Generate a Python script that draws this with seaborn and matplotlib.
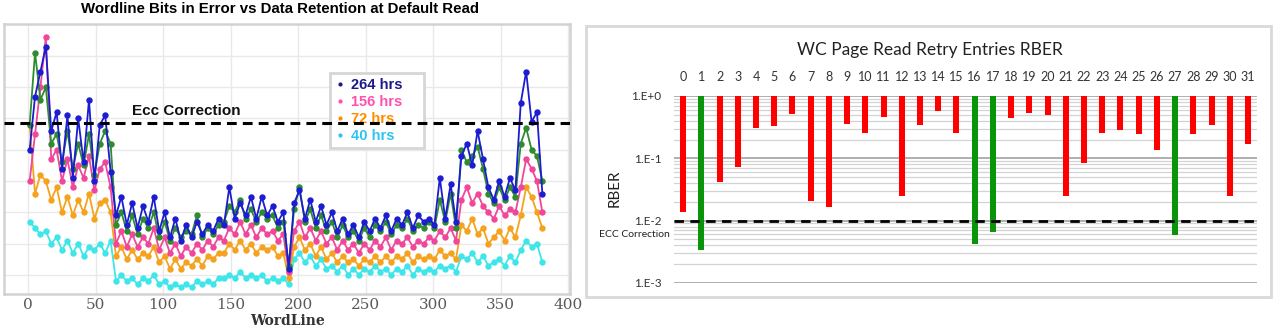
import matplotlib
matplotlib.use("Agg")
import matplotlib.pyplot as plt
import seaborn as sns
from matplotlib.lines import Line2D
from matplotlib.patches import Rectangle
from matplotlib.ticker import FixedLocator, FixedFormatter, NullFormatter

# ---------------- data: left chart (bits in error per wordline) ----------------
wordline = list(range(1, 382, 4))

bits_264 = [50, 67, 75, 83, 56, 62, 44, 61, 41, 60, 46, 66, 40, 58, 61, 43,
            29, 35, 26, 33, 25, 32, 27, 35, 24, 30, 22, 28, 21, 26, 22, 27,
            23, 26, 24, 28, 26, 38, 28, 33, 29, 35, 28, 35, 29, 32, 27, 30,
            12,
            33, 37, 28, 34, 27, 32, 26, 30, 24, 28, 23, 26, 22, 27, 24, 28,
            25, 29, 24, 28, 26, 30, 25, 29, 27, 28, 26, 41, 28, 39, 27,
            48, 52, 45, 56, 47, 38, 34, 40, 35, 41, 37, 65, 75, 59, 62, 36]

bits_other = [58, 81, 66, 70, 52, 55, 46, 56, 44, 52, 45, 55, 42, 52, 56, 52,
              26, 30, 24, 29, 23, 28, 25, 30, 22, 27, 21, 25, 22, 24, 23, 29,
              22, 25, 23, 26, 27, 32, 30, 34, 28, 31, 27, 30, 28, 29, 25, 27,
              13,
              31, 38, 27, 31, 25, 29, 24, 27, 22, 26, 22, 24, 21, 25, 22, 26,
              24, 27, 23, 26, 25, 28, 24, 26, 25, 27, 25, 34, 27, 36, 25,
              50, 46, 48, 51, 44, 36, 33, 38, 34, 38, 35, 52, 57, 50, 48, 40]

bits_156 = [40, 55, 70, 86, 47, 50, 40, 47, 38, 45, 41, 48, 37, 44, 46, 38,
            20, 24, 19, 23, 19, 22, 20, 25, 18, 22, 17, 20, 16, 19, 17, 20,
            18, 21, 19, 22, 21, 25, 23, 27, 23, 26, 22, 25, 23, 24, 21, 23,
            11,
            24, 27, 22, 25, 21, 24, 20, 22, 18, 21, 18, 20, 17, 20, 18, 21,
            19, 22, 18, 21, 20, 22, 19, 21, 20, 22, 21, 24, 22, 25, 21,
            34, 38, 33, 36, 32, 30, 28, 32, 29, 31, 30, 38, 47, 44, 40, 30]

bits_72 = [58, 36, 42, 40, 34, 38, 30, 35, 29, 34, 30, 36, 28, 33, 34, 30,
           16, 19, 15, 18, 15, 17, 16, 19, 14, 16, 12, 15, 12, 14, 13, 15,
           13, 16, 15, 17, 17, 20, 18, 21, 18, 20, 17, 19, 18, 19, 16, 17,
           9,
           19, 22, 18, 20, 16, 19, 15, 17, 14, 16, 14, 15, 13, 15, 14, 16,
           14, 16, 14, 16, 15, 17, 14, 16, 15, 16, 15, 18, 16, 17, 15,
           26, 24, 28, 23, 25, 20, 22, 24, 21, 25, 22, 29, 38, 35, 30, 25]

bits_40 = [27, 25, 23, 24, 20, 22, 18, 21, 17, 20, 16, 19, 18, 20, 17, 21,
           8, 10, 8, 9, 7, 9, 8, 10, 7, 8, 6, 7, 6, 7, 6, 8,
           7, 8, 7, 9, 9, 10, 9, 11, 9, 10, 9, 10, 8, 9, 8, 9,
           7,
           15, 17, 14, 16, 13, 15, 12, 13, 11, 13, 10, 12, 10, 12, 11, 13,
           11, 12, 10, 12, 11, 13, 10, 12, 11, 12, 11, 13, 12, 13, 11,
           16, 15, 17, 14, 16, 13, 14, 15, 13, 16, 14, 18, 21, 19, 20, 14]

legend_labels = ["264 hrs", "156 hrs", "72 hrs", "40 hrs"]
ecc_left = 58.7
left_xticks = [0, 50, 100, 150, 200, 250, 300, 350, 400]

# ---------------- data: right chart (RBER per read-retry entry) ----------------
retry_entries = list(range(32))
rber = [0.0138, 0.00336, 0.042, 0.0716, 0.305, 0.328, 0.513, 0.0208, 0.0166, 0.358,
        0.256, 0.453, 0.0253, 0.345, 0.566, 0.256, 0.00415, 0.00665, 0.448, 0.538,
        0.494, 0.0253, 0.084, 0.256, 0.286, 0.247, 0.135, 0.0058, 0.247, 0.345,
        0.0253, 0.168]
passing_entries = [1, 16, 17, 27]
ecc_rber = 1e-2
rber_ticks = [1e-3, 1e-2, 1e-1, 1.0]
rber_ticklabels = ["1.E-3", "1.E-2", "1.E-1", "1.E+0"]

# ---------------- styling ----------------
sns.set_theme(style="white")
plt.rcParams["font.family"] = ["DejaVu Sans"]

c_blue, c_other, c_pink, c_orange, c_cyan = "#1c1cd0", "#2e8b2e", "#f0479a", "#f5a31e", "#3ee6ea"
legend_text_cols = ["#1a1a8c", "#ff4fb0", "#ff8c00", "#2ec4f0"]
legend_dot_cols = ["#1a1a8c", "#ff4fb0", "#ff8c00", "#2ec4f0"]

fig = plt.figure(figsize=(12.8, 3.33), dpi=100)

# ================= LEFT CHART =================
axL = fig.add_axes([0.003125, 0.1171, 0.4422, 0.8108])
for vals, col, z in [(bits_40, c_cyan, 2), (bits_72, c_orange, 2.1), (bits_156, c_pink, 2.2),
                     (bits_other, c_other, 2.3), (bits_264, c_blue, 2.4)]:
    sns.lineplot(x=wordline, y=vals, ax=axL, color=col, marker="o", markersize=4.6,
                 markeredgewidth=0, linewidth=1.3, legend=False, zorder=z)

axL.set_xlim(-18, 401.5)
axL.set_ylim(3.9, 90.2)
axL.set_xticks(left_xticks)
axL.set_xticklabels([str(t) for t in left_xticks])
axL.set_yticks([10, 20, 30, 40, 50, 60, 70, 80])
axL.set_yticklabels([])
axL.grid(True, color="#e9e9e9", lw=1.0)
axL.set_axisbelow(True)
for sp in axL.spines.values():
    sp.set_color("#d2d2d2")
    sp.set_linewidth(1.8)
axL.tick_params(axis="both", length=0)
axL.tick_params(axis="x", labelsize=11, labelcolor="#5a5a5a", pad=3)
for lbl in axL.get_xticklabels():
    lbl.set_fontfamily("DejaVu Serif")
axL.set_xlabel("WordLine", fontfamily="DejaVu Serif", fontweight="bold", fontsize=10,
               color="#333333", labelpad=1)
axL.set_ylabel("")

axL.axhline(ecc_left, color="black", lw=2.2, dashes=(3.2, 2.0), zorder=6)
axL.text(77, 62.5, "Ecc Correction", fontfamily="Liberation Sans", fontweight="bold",
         fontsize=11, va="center", ha="left", color="#111111", zorder=7)

handles = [Line2D([], [], marker="o", linestyle="none", markersize=3, color=c,
                  markeredgewidth=0) for c in legend_dot_cols]
leg = axL.legend(handles, legend_labels, loc="upper left",
                 bbox_to_anchor=(0.576, 0.511, 0.166, 0.3075), mode="expand",
                 frameon=True, fancybox=False, framealpha=1, borderaxespad=0,
                 handlelength=0.6, handletextpad=0.5, labelspacing=0.2, borderpad=0.35,
                 prop={"weight": "bold", "size": 10.5, "family": "Liberation Sans"})
leg.get_frame().set_edgecolor("#d6d6d6")
leg.get_frame().set_linewidth(2)
for t, c in zip(leg.get_texts(), legend_text_cols):
    t.set_color(c)
leg.set_zorder(5)

fig.text(0.219, 0.972, "Wordline Bits in Error vs Data Retention at Default Read",
         ha="center", va="center", fontfamily="Liberation Sans", fontweight="bold",
         fontsize=10.8, color="black")

# ================= RIGHT CHART =================
fig.patches.append(Rectangle((0.4578, 0.108), 0.5352, 0.814, transform=fig.transFigure,
                             fill=False, edgecolor="#d9d9d9", lw=2, zorder=0))
axR = fig.add_axes([0.5266, 0.1502, 0.4555, 0.5616])
axR.set_yscale("log")
bar_cols = ["#0a940a" if i in passing_entries else "#ff0000" for i in retry_entries]
axR.bar(retry_entries, [1.0 - v for v in rber], bottom=rber, width=0.33,
        color=bar_cols, zorder=3, linewidth=0)
axR.set_ylim(1e-3, 1.0)
axR.set_xlim(-0.5, 31.5)
axR.yaxis.set_major_locator(FixedLocator(rber_ticks))
axR.yaxis.set_major_formatter(FixedFormatter(rber_ticklabels))
minor = [m * d for d in (1e-3, 1e-2, 1e-1) for m in range(2, 10)]
axR.yaxis.set_minor_locator(FixedLocator(minor))
axR.yaxis.set_minor_formatter(NullFormatter())
axR.grid(True, which="major", axis="y", color="#a9a9a9", lw=1.3, zorder=1)
axR.grid(True, which="minor", axis="y", color="#d3d3d3", lw=0.9, zorder=1)
axR.grid(False, axis="x")
axR.xaxis.tick_top()
axR.set_xticks(retry_entries)
axR.set_xticklabels([str(i) for i in retry_entries])
axR.tick_params(axis="both", which="both", length=0)
axR.tick_params(axis="x", labelsize=9, labelcolor="#333333", pad=9)
axR.tick_params(axis="y", labelsize=8.5, labelcolor="#333333", pad=9)
for lbl in axR.get_xticklabels() + axR.get_yticklabels():
    lbl.set_fontfamily("Lato")
for sp in axR.spines.values():
    sp.set_visible(False)
axR.set_facecolor("white")

axR.axhline(ecc_rber, color="black", lw=2, dashes=(3.4, 2.3), zorder=4)
axR.text(-0.72, 0.0059, "ECC Correction", fontfamily="Lato", fontsize=7.5,
         color="#222222", ha="right", va="center", clip_on=False)

fig.text(615 / 1280, 1 - 188 / 333, "RBER", rotation=90, ha="center", va="center",
         fontfamily="Lato", fontsize=11, color="#222222")
fig.text(930 / 1280, 1 - 50 / 333, "WC Page Read Retry Entries RBER", ha="center",
         va="center", fontfamily="Lato", fontsize=12.5, color="#222222")

fig.savefig("out.png", dpi=100)
